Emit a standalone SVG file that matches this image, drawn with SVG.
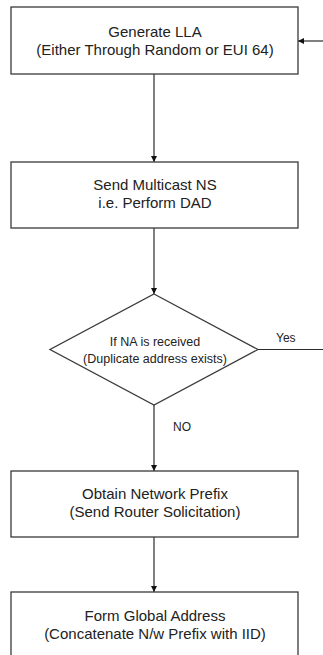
<svg xmlns="http://www.w3.org/2000/svg" width="323" height="655" viewBox="0 0 323 655">
<style>
.box{fill:#fff;stroke:#3a3a3a;stroke-width:1.3}
.ln{fill:none;stroke:#2a2a2a;stroke-width:1.2}
.t{font-family:"Liberation Sans",Arial,sans-serif;font-size:15px;fill:#222;text-anchor:middle}
.s{font-family:"Liberation Sans",Arial,sans-serif;font-size:12.5px;fill:#222;text-anchor:middle}
.l{font-family:"Liberation Sans",Arial,sans-serif;font-size:12px;fill:#222}
</style>
<defs>
<marker id="ah" viewBox="0 0 10 10" refX="10" refY="5" markerWidth="6" markerHeight="6" markerUnits="userSpaceOnUse" orient="auto">
<path d="M0,0 L10,5 L0,10 z" fill="#111"/>
</marker>
</defs>
<rect width="323" height="655" fill="#fff"/>
<g id="connectors">
<line class="ln" x1="154" y1="74" x2="154" y2="162" marker-end="url(#ah)"/>
<line class="ln" x1="154" y1="228" x2="154" y2="294" marker-end="url(#ah)"/>
<line class="ln" x1="154" y1="405" x2="154" y2="471" marker-end="url(#ah)"/>
<line class="ln" x1="154" y1="537" x2="154" y2="592" marker-end="url(#ah)"/>
<line class="ln" x1="258" y1="349.5" x2="323" y2="349.5"/>
<line class="ln" x1="323" y1="41" x2="298" y2="41" marker-end="url(#ah)"/>
<text class="l" x="276" y="342">Yes</text>
<text class="l" x="173" y="431">NO</text>
</g>
<g id="n1">
<rect class="box" x="11" y="7" width="287" height="67"/>
<text class="t" x="155" y="37">Generate LLA</text>
<text class="t" x="155" y="55">(Either Through Random or EUI 64)</text>
</g>
<g id="n2">
<rect class="box" x="11" y="162" width="287" height="66"/>
<text class="t" x="155" y="190">Send Multicast NS</text>
<text class="t" x="155" y="208">i.e. Perform DAD</text>
</g>
<g id="n3">
<polygon class="box" points="154,294 258,349.5 154,405 50,349.5"/>
<text class="s" x="155" y="346">If NA is received</text>
<text class="s" x="155" y="363">(Duplicate address exists)</text>
</g>
<g id="n4">
<rect class="box" x="11" y="471" width="287" height="66"/>
<text class="t" x="155" y="499">Obtain Network Prefix</text>
<text class="t" x="155" y="517">(Send Router Solicitation)</text>
</g>
<g id="n5">
<rect class="box" x="11" y="592" width="287" height="80"/>
<text class="t" x="155" y="621">Form Global Address</text>
<text class="t" x="155" y="639">(Concatenate N/w Prefix with IID)</text>
</g>
</svg>
